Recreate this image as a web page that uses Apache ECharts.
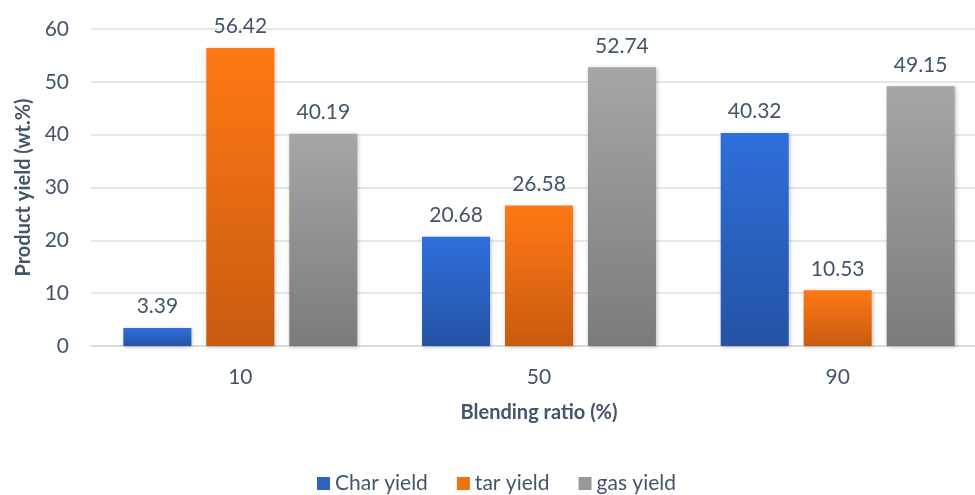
<!DOCTYPE html>
<html>
<head>
<meta charset="utf-8">
<script src="https://cdn.jsdelivr.net/npm/echarts@6/dist/echarts.min.js"></script>
<style>
  html, body { margin: 0; padding: 0; background: #fff; }
  #chart { width: 975px; height: 495px; }
</style>
</head>
<body>
<div id="chart"></div>
<script>
// Blending ratio categories and product yields (wt.%)
const categories = ['10', '50', '90'];
const charYield = [3.39, 20.68, 40.32];
const tarYield = [56.42, 26.58, 10.53];
const gasYield = [40.19, 52.74, 49.15];
const seriesNames = ['Char yield', 'tar yield', 'gas yield'];

const FONT = 'Lato, "Open Sans", sans-serif';
const TEXT = '#44546A';

function grad(top, bottom) {
  return new echarts.graphic.LinearGradient(0, 0, 0, 1, [
    { offset: 0, color: top },
    { offset: 1, color: bottom }
  ]);
}

const styles = [
  { fill: grad('#2E6FDB', '#2453A3'), legend: '#2B62C4' },
  { fill: grad('#FF7915', '#C85B10'), legend: '#EE7112' },
  { fill: grad('#A6A6A6', '#7B7B7B'), legend: '#989898' }
];

function makeSeries(name, data, st) {
  return {
    name: name,
    type: 'bar',
    data: data,
    barWidth: 68,
    barGap: '22%',
    itemStyle: {
      color: st.fill,
      shadowColor: 'rgba(0,0,0,0.25)',
      shadowBlur: 4,
      shadowOffsetX: 1,
      shadowOffsetY: 1
    },
    label: {
      show: true,
      position: 'top',
      distance: 11,
      color: TEXT,
      fontFamily: FONT,
      fontSize: 21,
      formatter: p => p.value.toFixed(2)
    }
  };
}

const chart = echarts.init(document.getElementById('chart'), null, { renderer: 'canvas' });
chart.setOption({
  animation: false,
  // plot area runs a little past the right edge of the canvas
  grid: { left: 91, right: -12, top: 29, bottom: 149, outerBoundsMode: 'none', containLabel: false },
  legend: {
    top: 468,
    left: 312,
    itemWidth: 13,
    itemHeight: 13,
    itemGap: 29,
    icon: 'rect',
    textStyle: { color: TEXT, fontFamily: FONT, fontSize: 21 },
    data: seriesNames.map((n, i) => ({ name: n, itemStyle: { color: styles[i].legend } }))
  },
  xAxis: {
    type: 'category',
    data: categories,
    name: 'Blending ratio (%)',
    nameLocation: 'middle',
    nameGap: 57,
    nameTextStyle: { color: TEXT, fontFamily: FONT, fontSize: 20, fontWeight: 'bold' },
    axisLine: { show: true, lineStyle: { color: '#D9D9D9', width: 1.5 } },
    axisTick: { show: false },
    axisLabel: { color: TEXT, fontFamily: FONT, fontSize: 21, margin: 21 }
  },
  yAxis: {
    type: 'value',
    min: 0,
    max: 60,
    interval: 10,
    name: 'Product yield (wt.%)',
    nameLocation: 'middle',
    nameGap: 57,
    nameTextStyle: { color: TEXT, fontFamily: FONT, fontSize: 20, fontWeight: 'bold' },
    axisLine: { show: false },
    axisTick: { show: false },
    axisLabel: { color: TEXT, fontFamily: FONT, fontSize: 21, margin: 22 },
    splitLine: { lineStyle: { color: '#DCDFE3', width: 1.5 } }
  },
  series: [
    makeSeries(seriesNames[0], charYield, styles[0]),
    makeSeries(seriesNames[1], tarYield, styles[1]),
    makeSeries(seriesNames[2], gasYield, styles[2])
  ]
});
</script>
</body>
</html>
